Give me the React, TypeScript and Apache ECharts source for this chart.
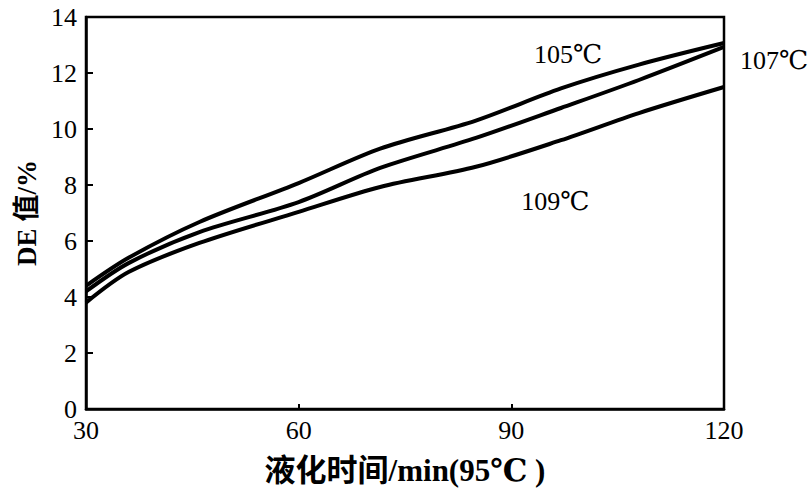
import React, { useEffect, useRef } from "react";
import * as echarts from "echarts";

const times = [30, 36, 46, 60, 71.5, 85, 97, 108, 120];
const de105 = [4.4, 5.4, 6.68, 8.07, 9.3, 10.3, 11.45, 12.3, 13.07];
const de107 = [4.2, 5.21, 6.32, 7.39, 8.61, 9.68, 10.75, 11.75, 12.93];
const de109 = [3.8, 4.89, 5.93, 7.04, 7.93, 8.65, 9.6, 10.57, 11.5];
const seriesNames = ["105℃", "107℃", "109℃"];
const xAxisName = "液化时间/min(95℃ )";
const yAxisName = "DE 值/%";

const serif = "'Liberation Serif', 'DejaVu Serif', 'Noto Sans CJK SC', serif";

export default function App() {
  const ref = useRef<HTMLDivElement>(null);
  useEffect(() => {
    if (!ref.current) return;
    const chart = echarts.init(ref.current, null, { renderer: "svg" });
    const labelStyle = { fontFamily: serif, fontSize: 26, color: "#000" };
    const mk = (name: string, vals: number[], extra: any) => ({
      name,
      type: "line",
      data: times.map((t, i) => [t, vals[i]]),
      smooth: 0.3,
      symbol: "none",
      lineStyle: { color: "#000", width: 4 },
      ...extra,
    });
    const note = (text: string, coord: number[]) => ({
      symbol: "circle",
      symbolSize: 1,
      itemStyle: { color: "rgba(0,0,0,0)" },
      data: [{ coord }],
      label: { show: true, position: "inside", formatter: text, ...labelStyle },
    });
    chart.setOption({
      animation: false,
      backgroundColor: "#fff",
      grid: {
        left: 86,
        right: 88,
        top: 17,
        bottom: 87,
        show: true,
        borderColor: "#000",
        borderWidth: 2.5,
      },
      xAxis: {
        type: "value",
        min: 30,
        max: 120,
        interval: 30,
        name: xAxisName,
        nameLocation: "middle",
        nameGap: 46,
        nameTextStyle: { fontFamily: serif, fontSize: 31, fontWeight: "bold", color: "#000", verticalAlign: "top" },
        axisLine: { lineStyle: { color: "#000", width: 2.5 } },
        axisTick: { inside: true, length: 5, lineStyle: { color: "#000", width: 2 } },
        axisLabel: { ...labelStyle, margin: 8 },
        splitLine: { show: false },
      },
      yAxis: {
        type: "value",
        min: 0,
        max: 14,
        interval: 2,
        name: yAxisName,
        nameLocation: "middle",
        nameRotate: 90,
        nameGap: 44,
        nameTextStyle: { fontFamily: serif, fontSize: 27, fontWeight: "bold", color: "#000" },
        axisLine: { lineStyle: { color: "#000", width: 2.5 } },
        axisTick: { inside: true, length: 7, lineStyle: { color: "#000", width: 2 } },
        axisLabel: { ...labelStyle, margin: 9 },
        splitLine: { show: false },
      },
      series: [
        mk(seriesNames[0], de105, { markPoint: note(seriesNames[0], [98, 12.65]) }),
        mk(seriesNames[1], de107, {
          endLabel: { show: true, formatter: seriesNames[1], ...labelStyle, offset: [8, 14] },
        }),
        mk(seriesNames[2], de109, { markPoint: note(seriesNames[2], [96.2, 7.4]) }),
      ],
    });
    return () => chart.dispose();
  }, []);
  return <div ref={ref} style={{ position: "fixed", left: 0, top: 0, width: 812, height: 496 }} />;
}
